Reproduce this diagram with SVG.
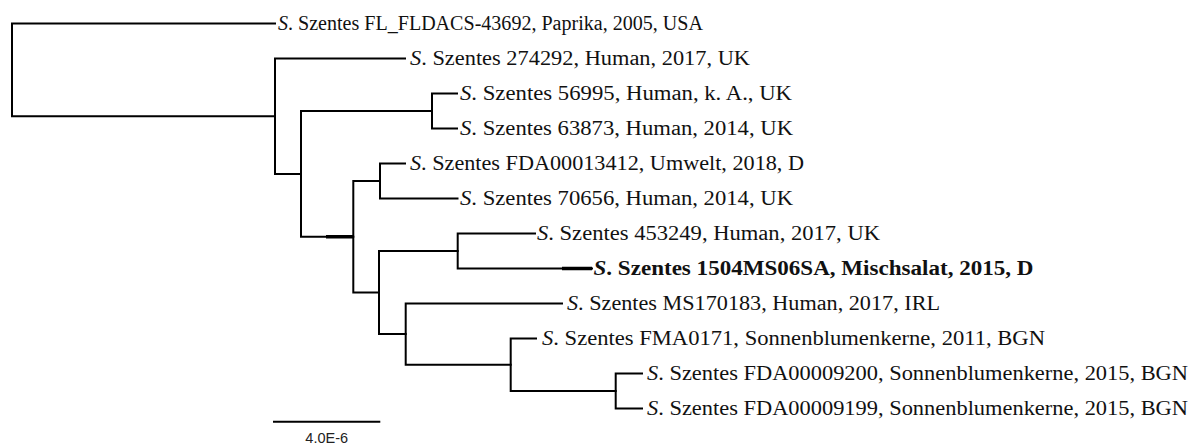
<svg xmlns="http://www.w3.org/2000/svg" width="1197" height="445" viewBox="0 0 1197 445">
<style>
.br{fill:none;stroke:#000;stroke-width:2;stroke-linecap:square}
.thick{fill:none;stroke:#000;stroke-width:3.5}
.lbl{font-family:"Liberation Serif","Times New Roman",serif;font-size:20px;fill:#111}
.b{font-weight:bold}
.it{font-style:italic}
.scale{font-family:"Liberation Sans",Arial,sans-serif;font-size:14.5px;fill:#222}
</style>
<rect width="1197" height="445" fill="#fff"/>
<g id="connectors">
<path class="br" d="M12,23.5V116.2M12,23.5H275M12,116.2H275"/>
<path class="br" d="M275,58.5V173.9M275,58.5H405M275,173.9H301"/>
<path class="br" d="M301,111V236.8M301,111H432M301,236.8H353.3"/>
<path class="br" d="M432,93.5V128.5M432,93.5H457M432,128.5H457"/>
<path class="br" d="M353.3,181V292.6M353.3,181H380M353.3,292.6H379"/>
<path class="br" d="M380,163.5V198.5M380,163.5H405M380,198.5H457.5"/>
<path class="br" d="M379,251V334.1M379,251H457.7M379,334.1H405.7"/>
<path class="br" d="M457.7,233.5V268.5M457.7,233.5H535M457.7,268.5H592"/>
<path class="br" d="M405.7,303.5V364.75M405.7,303.5H562M405.7,364.75H510.7"/>
<path class="br" d="M510.7,338.5V391M510.7,338.5H536M510.7,391H615.7"/>
<path class="br" d="M615.7,373.5V408.5M615.7,373.5H642M615.7,408.5H642"/>
<path class="thick" d="M326,236.8H353.3M562,268.5H592"/>
</g>
<g id="n1"><text class="lbl" x="278" y="30" textLength="425" lengthAdjust="spacingAndGlyphs"><tspan class="it">S</tspan>. Szentes FL_FLDACS-43692, Paprika, 2005, USA</text></g>
<g id="n2"><text class="lbl" x="410" y="65" textLength="340" lengthAdjust="spacingAndGlyphs"><tspan class="it">S</tspan>. Szentes 274292, Human, 2017, UK</text></g>
<g id="n3"><text class="lbl" x="460" y="100" textLength="332" lengthAdjust="spacingAndGlyphs"><tspan class="it">S</tspan>. Szentes 56995, Human, k. A., UK</text></g>
<g id="n4"><text class="lbl" x="460" y="135" textLength="333" lengthAdjust="spacingAndGlyphs"><tspan class="it">S</tspan>. Szentes 63873, Human, 2014, UK</text></g>
<g id="n5"><text class="lbl" x="410" y="170" textLength="394" lengthAdjust="spacingAndGlyphs"><tspan class="it">S</tspan>. Szentes FDA00013412, Umwelt, 2018, D</text></g>
<g id="n6"><text class="lbl" x="460" y="205" textLength="333" lengthAdjust="spacingAndGlyphs"><tspan class="it">S</tspan>. Szentes 70656, Human, 2014, UK</text></g>
<g id="n7"><text class="lbl" x="537" y="240" textLength="343" lengthAdjust="spacingAndGlyphs"><tspan class="it">S</tspan>. Szentes 453249, Human, 2017, UK</text></g>
<g id="n8"><text class="lbl b" x="593.5" y="275" textLength="440" lengthAdjust="spacingAndGlyphs"><tspan class="it">S</tspan>. Szentes 1504MS06SA, Mischsalat, 2015, D</text></g>
<g id="n9"><text class="lbl" x="567" y="310" textLength="373" lengthAdjust="spacingAndGlyphs"><tspan class="it">S</tspan>. Szentes MS170183, Human, 2017, IRL</text></g>
<g id="n10"><text class="lbl" x="542" y="345" textLength="503" lengthAdjust="spacingAndGlyphs"><tspan class="it">S</tspan>. Szentes FMA0171, Sonnenblumenkerne, 2011, BGN</text></g>
<g id="n11"><text class="lbl" x="647" y="380" textLength="541" lengthAdjust="spacingAndGlyphs"><tspan class="it">S</tspan>. Szentes FDA00009200, Sonnenblumenkerne, 2015, BGN</text></g>
<g id="n12"><text class="lbl" x="647" y="415" textLength="541" lengthAdjust="spacingAndGlyphs"><tspan class="it">S</tspan>. Szentes FDA00009199, Sonnenblumenkerne, 2015, BGN</text></g>
<g id="scalebar">
<path class="br" d="M274,421.7H379.3" stroke-linecap="butt"/>
<text class="scale" x="326.7" y="442.5" text-anchor="middle">4.0E-6</text>
</g>
</svg>
